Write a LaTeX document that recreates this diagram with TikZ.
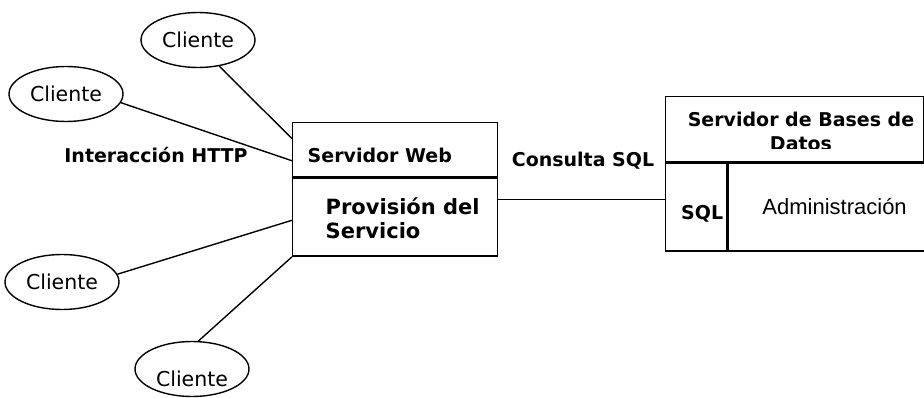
\documentclass[tikz,border=0pt]{standalone}
\usepackage{fontspec}
\setmainfont{DejaVu Sans}
\newfontfamily\arialfont{Liberation Sans}
\usetikzlibrary{shapes.geometric, calc}

\begin{document}
\begin{tikzpicture}[
      x=1pt, y=-1pt,
      line width=1.4pt,
      clienttext/.style={font=\fontsize{20.5}{24}\selectfont},
      client/.style={ellipse, draw, minimum width=114pt, minimum height=55pt, inner sep=0pt, clienttext},
      cell/.style={rectangle, draw, inner sep=0pt, anchor=north west},
      tag/.style={font=\fontsize{19}{24}\selectfont\bfseries, inner sep=0pt},
      big/.style={font=\fontsize{21}{24}\selectfont\bfseries, align=left, inner sep=0pt}
   ]
   \useasboundingbox (0,0) rectangle (924,398);

   % Web server box
   \node[cell, minimum width=205pt, minimum height=54pt] (webhead) at (292,122) {};
   \node[cell, minimum width=205pt, minimum height=78pt] (webbody) at (webhead.south west) {};
   \node[tag, anchor=west] (webname) at ($(webhead.west)+(15,6)$) {Servidor Web};
   \node[big, anchor=west] (service) at ($(webbody.west)+(33,1)$) {Provisión del\\Servicio};

   % Database server box
   \node[cell, minimum width=258pt, minimum height=65pt] (dbhead) at (665,96) {};
   \node[cell, minimum width=61pt, minimum height=88pt] (sqlcell) at (dbhead.south west) {};
   \node[cell, minimum width=197pt, minimum height=88pt] (admincell) at (sqlcell.north east) {};
   \begin{scope}
      \clip (665,96) rectangle (923,148.3);
      \node[tag, align=center] (dbname) at (801,131) {Servidor de Bases de\\Datos};
   \end{scope}
   \node[tag] (sqlname) at ($(sqlcell.center)+(6,7)$) {SQL};
   \node[font=\arialfont\fontsize{22}{26}\selectfont, inner sep=0pt] (admin) at ($(admincell.center)+(8,-1)$) {Administración};

   % Clients
   \node[client] (c1) at (198,40) {Cliente};
   \node[client] (c2) at (66,94) {Cliente};
   \node[client] (c3) at (62,282) {Cliente};
   \node[client, label={[clienttext, yshift=-10pt]center:Cliente}] (c4) at (192,369) {};

   % Connectors
   \draw (c1.-51) -- ($(webhead.north west)!0.3!(webhead.south west)$);
   \draw (c2.-9) -- ($(webhead.north west)!0.7!(webhead.south west)$);
   \draw (c3.8) -- ($(webbody.north west)!0.54!(webbody.south west)$);
   \draw (c4.77) -- (webbody.south west);
   \coordinate (sqlin) at ($(webbody.north east)!0.28!(webbody.south east)$);
   \draw (sqlin) -- (sqlin -| dbhead.west);

   % Labels
   \node[tag] (http) at (156,155) {Interacción HTTP};
   \node[tag] (query) at (583,161) {Consulta SQL};
\end{tikzpicture}
\end{document}
